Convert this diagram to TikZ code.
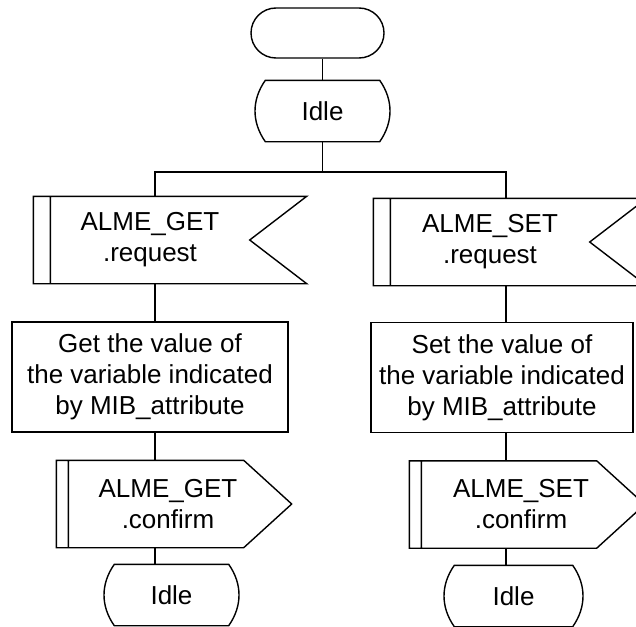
\documentclass[tikz,border=0pt]{standalone}
\usepackage{fontspec}
\setmainfont{Liberation Sans}
\begin{document}
\begin{tikzpicture}[x=1pt, y=-1pt, line width=1.4pt,
    every node/.style={font=\fontsize{26}{31}\selectfont, inner sep=0pt, align=center},
    startbox/.style={draw, rectangle, rounded corners=25pt, minimum width=133pt, minimum height=50pt},
    statebox/.style={minimum width=113pt, minimum height=60pt},
    inbox/.style={minimum width=198pt, minimum height=86pt},
    outbox/.style={minimum width=198pt, minimum height=86pt},
    taskbox/.style={draw, minimum height=110pt}]
    \useasboundingbox (0,0) rectangle (636,626);

    % Start and first state
    \node[startbox] (start) at (317.5,33) {};
    \node[statebox] (idle0) at (322.5,111) {Idle};

    % Inputs
    \node[inbox] (getreq) at (150,240) {ALME\_GET\\.request};
    \node[inbox] (setreq) at (490,242) {ALME\_SET\\.request};

    % Tasks
    \node[taskbox, minimum width=276pt] (gettask) at (150,377) {Get the value of\\the variable indicated\\by MIB\_attribute};
    \node[taskbox, minimum width=262pt] (settask) at (502,377.5) {Set the value of\\the variable indicated\\by MIB\_attribute};

    % Outputs
    \node[outbox] (getconf) at (168,504) {ALME\_GET\\.confirm};
    \node[outbox] (setconf) at (521,504.5) {ALME\_SET\\.confirm};

    % Final states
    \node[statebox] (getidle) at (171.5,595) {Idle};
    \node[statebox, minimum width=117pt] (setidle) at (513.5,596) {Idle};

    % Outlines
    \foreach \n in {idle0,getidle,setidle}
        \draw (\n.north west) -- (\n.north east) to[bend left=35] (\n.south east)
            -- (\n.south west) to[bend left=35] (\n.north west) -- cycle;
    \foreach \n in {getreq,setreq}
        \draw ([xshift=-17pt]\n.north west) -- ([xshift=57pt]\n.north east) -- (\n.east)
            -- ([xshift=57pt]\n.south east) -- ([xshift=-17pt]\n.south west) -- cycle
            (\n.north west) -- (\n.south west);
    \foreach \n in {getconf,setconf}
        \draw ([xshift=-12pt]\n.north west) -- ([xshift=-24pt]\n.north east) -- ([xshift=24pt]\n.east)
            -- ([xshift=-24pt]\n.south east) -- ([xshift=-12pt]\n.south west) -- cycle
            (\n.north west) -- (\n.south west);

    % Connectors
    \coordinate (colL) at (155,0);
    \coordinate (colR) at (506,0);
    \coordinate (fork) at (322.5,172);
    \draw (start.south -| idle0.north) -- (idle0.north);
    \draw (idle0.south) -- (fork);
    \draw (getreq.north -| colL) |- (fork) -| (setreq.north -| colR);
    \draw (getreq.south -| colL) -- (gettask.north -| colL);
    \draw (gettask.south -| colL) -- (getconf.north -| colL);
    \draw (getconf.south -| colL) -- (getidle.north -| colL);
    \draw (setreq.south -| colR) -- (settask.north -| colR);
    \draw (settask.south -| colR) -- (setconf.north -| colR);
    \draw (setconf.south -| colR) -- (setidle.north -| colR);
\end{tikzpicture}
\end{document}
